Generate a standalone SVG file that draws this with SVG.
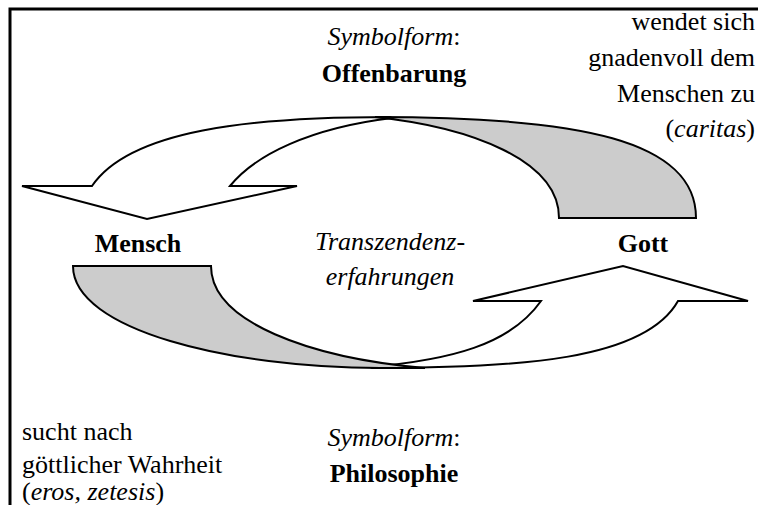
<svg xmlns="http://www.w3.org/2000/svg" width="758" height="505" viewBox="0 0 758 505" font-family="Times New Roman, Liberation Serif, serif" font-size="26">
<rect width="758" height="505" fill="#fff"/>
<path d="M10,505 L10,9 L758,9" fill="none" stroke="#000" stroke-width="3"/>
<g id="connectors" stroke="#000" stroke-width="2" stroke-linejoin="miter">
<g id="upper-arrow">
<path fill="#fff" d="M22,186 L147,219 L297,186 L230,186 C255,155 310,128 392,118 L390,117 C250,117 130,130 92,186 Z"/>
<path fill="#cccccc" d="M375,117 C580,117 696,140 696,218 L559,218 C559,160 470,127 375,117 Z"/>
</g>
<g id="lower-arrow">
<path fill="#fff" d="M748,301 L623,266 L473,301 L541,301 C510,345 450,360 370,367 L372,368 C520,368 645,360 678,301 Z"/>
<path fill="#cccccc" d="M73,266 L211,266 C211,322 310,358 425,368 L380,368 C230,368 73,330 73,266 Z"/>
</g>
</g>
<g id="offenbarung">
<text x="394" y="45" font-family="Times New Roman, serif" font-style="italic" text-anchor="middle">Symbolform<tspan font-style="normal">:</tspan></text>
<text x="394" y="82" font-family="Times New Roman, serif" font-weight="bold" text-anchor="middle">Offenbarung</text>
</g>
<g id="gott-note">
<text x="755" y="30" font-family="Times New Roman, serif" text-anchor="end">wendet sich</text>
<text x="755" y="66" font-family="Times New Roman, serif" text-anchor="end">gnadenvoll dem</text>
<text x="755" y="102" font-family="Times New Roman, serif" text-anchor="end">Menschen zu</text>
<text x="755" y="137" font-family="Times New Roman, serif" text-anchor="end">(<tspan font-style="italic">caritas</tspan>)</text>
</g>
<g id="mensch">
<text x="138" y="252" font-family="Times New Roman, serif" font-weight="bold" text-anchor="middle">Mensch</text>
</g>
<g id="transzendenz">
<text x="390" y="250" font-family="Times New Roman, serif" font-style="italic" text-anchor="middle">Transzendenz-</text>
<text x="390" y="285" font-family="Times New Roman, serif" font-style="italic" text-anchor="middle">erfahrungen</text>
</g>
<g id="gott">
<text x="643" y="252" font-family="Times New Roman, serif" font-weight="bold" text-anchor="middle">Gott</text>
</g>
<g id="mensch-note">
<text x="22" y="440" font-family="Times New Roman, serif">sucht nach</text>
<text x="22" y="473" font-family="Times New Roman, serif">göttlicher Wahrheit</text>
<text x="22" y="500" font-family="Times New Roman, serif">(<tspan font-style="italic">eros, zetesis</tspan>)</text>
</g>
<g id="philosophie">
<text x="394" y="446" font-family="Times New Roman, serif" font-style="italic" text-anchor="middle">Symbolform<tspan font-style="normal">:</tspan></text>
<text x="394" y="482" font-family="Times New Roman, serif" font-weight="bold" text-anchor="middle">Philosophie</text>
</g>
</svg>
